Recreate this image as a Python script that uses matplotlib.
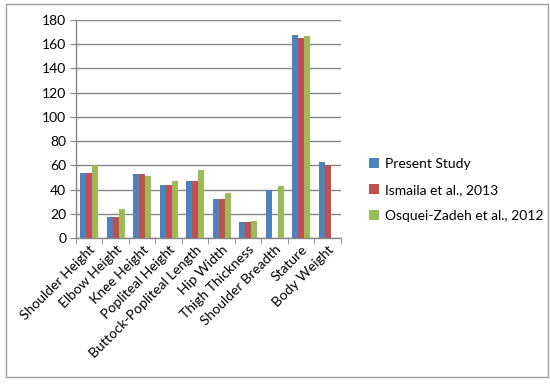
import matplotlib
matplotlib.use("Agg")
import matplotlib.pyplot as plt
import numpy as np
from matplotlib.patches import Rectangle

categories = ["Shoulder Height", "Elbow Height", "Knee Height", "Popliteal Height",
              "Buttock-Popliteal Length", "Hip Width", "Thigh Thickness",
              "Shoulder Breadth", "Stature", "Body Weight"]
present_study = [53.8, 17.7, 53.0, 44.2, 47.5, 32.3, 13.5, 40.0, 167.6, 62.7]
ismaila_2013 = [53.8, 17.7, 53.0, 44.2, 47.5, 32.3, 13.5, np.nan, 164.8, 59.9]
osquei_2012 = [59.9, 23.7, 51.6, 46.7, 55.8, 37.3, 14.4, 43.1, 166.8, np.nan]
series_names = ["Present Study", "Ismaila et al., 2013", "Osquei-Zadeh et al., 2012"]
colors = ["#4F81BD", "#C0504D", "#9BBB59"]

plt.rcParams['font.family'] = ['Lato', 'DejaVu Sans']

fig = plt.figure(figsize=(5.5, 3.84), dpi=100)
ax = fig.add_axes([0.138, 0.38, 0.482, 0.568])

x = np.arange(len(categories))
w = 0.225
for i, (vals, name, c) in enumerate(zip([present_study, ismaila_2013, osquei_2012], series_names, colors)):
    ax.bar(x + (i - 1) * w, vals, width=w, color=c, label=name, zorder=3)

ax.set_xlim(-0.5, len(categories) - 0.5)
ax.set_ylim(0, 180)
ax.set_yticks(np.arange(0, 181, 20))
ax.yaxis.grid(True, color="#868686", linewidth=1.0, zorder=0)
ax.set_axisbelow(True)

ax.set_xticks(x)
ax.set_xticklabels(categories, rotation=45, ha="right", rotation_mode="anchor", fontsize=10)
ax.tick_params(axis="x", length=0, pad=4)
ax.set_xticks(np.arange(-0.5, len(categories), 1), minor=True)
ax.tick_params(axis="x", which="minor", length=4, color="#868686", direction="out")
ax.tick_params(axis="y", length=4, color="#868686", labelsize=10, pad=3)

for s in ["top", "right"]:
    ax.spines[s].set_visible(False)
for s in ["left", "bottom"]:
    ax.spines[s].set_color("#868686")
    ax.spines[s].set_linewidth(1.0)

leg = fig.legend(loc="center left", bbox_to_anchor=(0.648, 0.505), frameon=False,
                 fontsize=10, handlelength=0.7, handleheight=0.7, handletextpad=0.45,
                 labelspacing=1.0)

fig.patches.append(Rectangle((0.011, 0.018), 0.985, 0.972, transform=fig.transFigure,
                             fill=False, edgecolor="#a0a0a0", linewidth=1.0))

fig.savefig("out.png", dpi=100)
